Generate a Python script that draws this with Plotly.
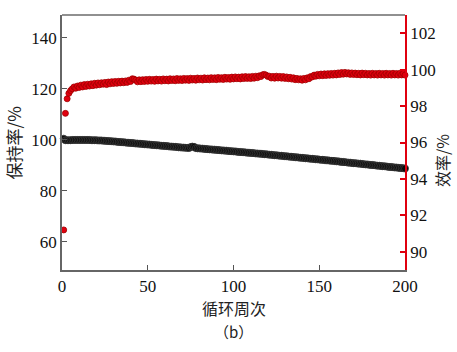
import plotly.graph_objects as go

cycles = list(range(1, 201))

retention = [
    100.4, 99.8, 99.8, 99.8, 99.8, 99.9, 99.9, 99.9, 99.9, 99.9,
    99.9, 99.9, 99.9, 99.9, 99.9, 99.9, 99.8, 99.8, 99.8, 99.8,
    99.7, 99.7, 99.7, 99.6, 99.6, 99.5, 99.5, 99.4, 99.4, 99.3,
    99.3, 99.2, 99.1, 99.1, 99.0, 99.0, 98.9, 98.8, 98.8, 98.7,
    98.7, 98.6, 98.5, 98.5, 98.4, 98.4, 98.3, 98.2, 98.2, 98.1,
    98.1, 98.0, 97.9, 97.9, 97.8, 97.8, 97.7, 97.6, 97.6, 97.5,
    97.5, 97.4, 97.3, 97.3, 97.2, 97.2, 97.1, 97.0, 97.0, 96.9,
    96.9, 96.8, 96.8, 96.7, 97.1, 97.3, 97.2, 96.7, 96.6, 96.6,
    96.5, 96.5, 96.4, 96.4, 96.3, 96.2, 96.2, 96.1, 96.1, 96.0,
    96.0, 95.9, 95.8, 95.8, 95.7, 95.7, 95.6, 95.5, 95.5, 95.4,
    95.4, 95.3, 95.2, 95.2, 95.1, 95.1, 95.0, 94.9, 94.9, 94.8,
    94.8, 94.7, 94.6, 94.6, 94.5, 94.5, 94.4, 94.3, 94.3, 94.2,
    94.1, 94.1, 94.0, 93.9, 93.9, 93.8, 93.7, 93.7, 93.6, 93.5,
    93.5, 93.4, 93.3, 93.3, 93.2, 93.1, 93.1, 93.0, 92.9, 92.9,
    92.8, 92.7, 92.7, 92.6, 92.5, 92.5, 92.4, 92.3, 92.3, 92.2,
    92.1, 92.1, 92.0, 91.9, 91.9, 91.8, 91.7, 91.7, 91.6, 91.5,
    91.5, 91.4, 91.3, 91.3, 91.2, 91.1, 91.0, 91.0, 90.9, 90.8,
    90.8, 90.7, 90.6, 90.6, 90.5, 90.4, 90.3, 90.3, 90.2, 90.1,
    90.1, 90.0, 89.9, 89.8, 89.8, 89.7, 89.6, 89.6, 89.5, 89.4,
    89.3, 89.3, 89.2, 89.1, 89.1, 89.0, 88.9, 88.9, 88.8, 88.7,
]

efficiency = [
    91.2, 97.6, 98.4, 98.7, 98.85, 98.95, 99.05, 98.98, 99.1, 99.02,
    99.15, 99.05, 99.18, 99.08, 99.2, 99.1, 99.22, 99.12, 99.25, 99.15,
    99.27, 99.17, 99.28, 99.2, 99.3, 99.18, 99.32, 99.22, 99.34, 99.24,
    99.35, 99.25, 99.36, 99.27, 99.37, 99.28, 99.38, 99.3, 99.42, 99.35,
    99.5, 99.48, 99.42, 99.33, 99.44, 99.34, 99.45, 99.35, 99.46, 99.36,
    99.47, 99.37, 99.46, 99.36, 99.48, 99.38, 99.47, 99.37, 99.49, 99.39,
    99.48, 99.38, 99.5, 99.4, 99.49, 99.39, 99.51, 99.41, 99.5, 99.4,
    99.52, 99.42, 99.51, 99.41, 99.53, 99.43, 99.52, 99.42, 99.54, 99.44,
    99.53, 99.43, 99.55, 99.45, 99.54, 99.44, 99.56, 99.46, 99.55, 99.45,
    99.57, 99.47, 99.56, 99.46, 99.58, 99.48, 99.57, 99.47, 99.59, 99.49,
    99.6, 99.5, 99.59, 99.49, 99.61, 99.51, 99.62, 99.52, 99.61, 99.51,
    99.63, 99.53, 99.64, 99.56, 99.66, 99.62, 99.72, 99.74, 99.7, 99.62,
    99.64, 99.54, 99.63, 99.53, 99.64, 99.54, 99.63, 99.53, 99.62, 99.52,
    99.6, 99.5, 99.58, 99.48, 99.55, 99.45, 99.52, 99.44, 99.5, 99.42,
    99.52, 99.44, 99.55, 99.5, 99.62, 99.6, 99.7, 99.64, 99.74, 99.66,
    99.76, 99.67, 99.77, 99.68, 99.78, 99.69, 99.79, 99.7, 99.8, 99.71,
    99.82, 99.73, 99.84, 99.75, 99.85, 99.76, 99.83, 99.74, 99.82, 99.73,
    99.81, 99.72, 99.8, 99.71, 99.81, 99.72, 99.8, 99.71, 99.79, 99.7,
    99.8, 99.71, 99.79, 99.7, 99.8, 99.71, 99.79, 99.7, 99.8, 99.71,
    99.79, 99.7, 99.8, 99.71, 99.79, 99.7, 99.8, 99.71, 99.79, 99.7,
]

x_ticks = [0, 50, 100, 150, 200]
y1_ticks = [60, 80, 100, 120, 140]
y2_ticks = [90, 92, 94, 96, 98, 100, 102]

serif = "Times New Roman, Liberation Serif, DejaVu Serif, serif"
cjk = "Noto Sans CJK SC"
red = "#e0000f"

tickfont = dict(family=serif, size=17, color="#111111")

fig = go.Figure()
fig.add_trace(go.Scatter(
    x=cycles, y=retention, mode="markers", yaxis="y",
    marker=dict(size=7, color="#0a0a0a", line=dict(color="#3a3a3a", width=0.8)),
    showlegend=False, cliponaxis=False,
))
fig.add_trace(go.Scatter(
    x=cycles, y=efficiency, mode="markers", yaxis="y2",
    marker=dict(size=6, color=red, line=dict(color="#a00000", width=0.8)),
    showlegend=False, cliponaxis=False,
))

fig.update_layout(
    width=457, height=352,
    margin=dict(l=62, r=52, t=15, b=82),
    paper_bgcolor="white", plot_bgcolor="white",
    font=dict(family=serif, size=16, color="#111111"),
    xaxis=dict(
        range=[0, 200], tickvals=x_ticks, ticks="inside", ticklen=5,
        tickcolor="#555555", showline=True, linecolor="#666666", linewidth=1.5,
        showgrid=False, zeroline=False, tickfont=tickfont,
    ),
    yaxis=dict(
        range=[48.9, 148.9], tickvals=y1_ticks, ticks="inside", ticklen=5,
        tickcolor="#555555", showline=True, linecolor="#666666", linewidth=1.5,
        showgrid=False, zeroline=False, tickfont=tickfont,
    ),
    yaxis2=dict(
        range=[89.0, 103.0], tickvals=y2_ticks, overlaying="y", side="right",
        ticks="inside", ticklen=5, tickcolor=red, tickwidth=2,
        showline=True, linecolor=red, linewidth=1.5,
        showgrid=False, zeroline=False, tickfont=tickfont,
    ),
    shapes=[dict(type="line", xref="paper", yref="paper", x0=0, x1=1, y0=1, y1=1,
                 line=dict(color="#222222", width=1.2))],
    annotations=[
        dict(text="保持率/%", xref="paper", yref="paper", x=-0.14, y=0.5,
             textangle=-90, showarrow=False, xanchor="center", yanchor="middle",
             font=dict(family=cjk, size=17, color="#222222")),
        dict(text="效率/%", xref="paper", yref="paper", x=1.11, y=0.43,
             textangle=-90, showarrow=False, xanchor="center", yanchor="middle",
             font=dict(family=cjk, size=16, color="#222222")),
        dict(text="循环周次", xref="paper", yref="paper", x=0.5, y=-0.15,
             showarrow=False, xanchor="center", yanchor="middle",
             font=dict(family=cjk, size=16, color="#222222")),
        dict(text="（b）", xref="paper", yref="paper", x=0.5, y=-0.24,
             showarrow=False, xanchor="center", yanchor="middle",
             font=dict(family=cjk, size=15, color="#222222")),
    ],
)

fig.write_html("out.html")
